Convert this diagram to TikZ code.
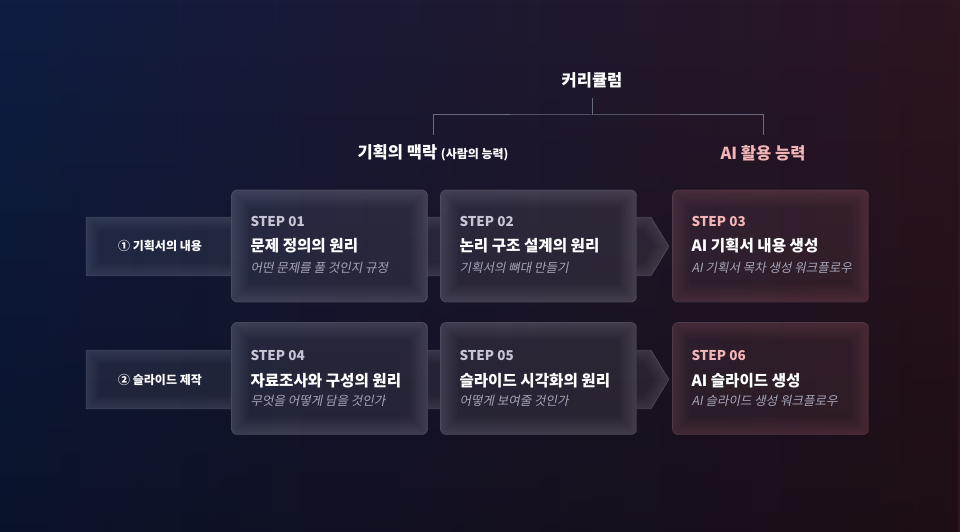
\documentclass[tikz,border=0pt]{standalone}
\usepackage{fontspec}
\setmainfont{Noto Sans CJK KR}
\newfontfamily\slantfont{Noto Sans CJK KR}[FakeSlant=0.2]
\usetikzlibrary{positioning,fadings}
\definecolor{bgnavy}{HTML}{0F1D42}
\definecolor{bgmid}{HTML}{1C1A38}
\definecolor{bgwine}{HTML}{2D1521}
\definecolor{steppink}{HTML}{F2B4B6}
\definecolor{stepgray}{HTML}{C6C5D4}
\definecolor{subgray}{HTML}{A6A5B8}
\definecolor{linegray}{HTML}{6C6C80}
\newcommand{\pagebg}{%
	\shade[left color=bgnavy, middle color=bgmid, right color=bgwine] (0,0) rectangle (960,532);
	\fill[black, path fading=north, fill opacity=0.35] (0,0) rectangle (960,532);}
\tikzset{
	every node/.style={inner sep=0},
}

\begin{document}
\begin{tikzpicture}[x=1pt,y=-1pt,
cardbox/.style = {rectangle, minimum width=196pt, minimum height=112pt},
band/.style = {fill=white, fill opacity=0.07, draw=white, draw opacity=0.2},
glow/.style = {opacity=0.012},
steplbl/.style = {anchor=west, font=\bfseries\fontsize{13.5}{13.5}\selectfont, text=stepgray},
steptitle/.style = {anchor=west, font=\bfseries\fontsize{15.6}{15.6}\selectfont, text=white},
stepsub/.style = {anchor=west, font=\slantfont\fontsize{12.5}{12.5}\selectfont, text=subgray},
bandlbl/.style = {font=\bfseries\fontsize{12}{12}\selectfont, text=white},
head/.style = {font=\bfseries\fontsize{16.5}{16.5}\selectfont, text=white},
tree/.style = {draw=linegray, line width=1pt}]
\useasboundingbox (0,0) rectangle (960,532);
\pagebg

% bands behind the rows
\path[band] (86,217) -- (651,217) -- (669,246.5) -- (651,276) -- (86,276) -- cycle;
\path[band] (86,350) -- (651,350) -- (669,379.5) -- (651,409) -- (86,409) -- cycle;
\begin{scope}
	\clip (86,217) -- (651,217) -- (669,246.5) -- (651,276) -- (86,276) -- cycle;
	\foreach \w in {3,6,...,27}
		\draw[white, glow, line width=\w pt] (86,217) -- (651,217) -- (669,246.5) -- (651,276) -- (86,276) -- cycle;
\end{scope}
\begin{scope}
	\clip (86,350) -- (651,350) -- (669,379.5) -- (651,409) -- (86,409) -- cycle;
	\foreach \w in {3,6,...,27}
		\draw[white, glow, line width=\w pt] (86,350) -- (651,350) -- (669,379.5) -- (651,409) -- (86,409) -- cycle;
\end{scope}
\node[bandlbl] (row1lbl) at (160,246) {① 기획서의 내용};
\node[bandlbl] (row2lbl) at (160,380) {② 슬라이드 제작};

% cards
\node[cardbox] (step1) at (329.5,246) {};
\node[cardbox] (step2) at (538.5,246) {};
\node[cardbox] (step3) at (770.5,246) {};
\node[cardbox] (step4) at (329.5,378.5) {};
\node[cardbox] (step5) at (538.5,378.5) {};
\node[cardbox] (step6) at (770.5,378.5) {};
\foreach \c/\t in {step1/white,step2/white,step3/steppink,step4/white,step5/white,step6/steppink}{
	\begin{scope}
		\clip[rounded corners=6pt] (\c.north west) rectangle (\c.south east);
		\pagebg
		\fill[\t, fill opacity=0.08] (\c.north west) rectangle (\c.south east);
		\foreach \w in {3,6,...,36}
			\draw[\t, glow, line width=\w pt, rounded corners=6pt] (\c.north west) rectangle (\c.south east);
	\end{scope}
	\draw[\t, opacity=0.22, rounded corners=6pt] (\c.north west) rectangle (\c.south east);
}

\node[steplbl] (s1lbl) at ([shift={(19,32)}]step1.north west) {STEP 01};
\node[steptitle] (s1title) at ([shift={(19,56)}]step1.north west) {문제 정의의 원리};
\node[stepsub] (s1sub) at ([shift={(19,78)}]step1.north west) {어떤 문제를 풀 것인지 규정};
\node[steplbl] (s2lbl) at ([shift={(19,32)}]step2.north west) {STEP 02};
\node[steptitle] (s2title) at ([shift={(19,56)}]step2.north west) {논리 구조 설계의 원리};
\node[stepsub] (s2sub) at ([shift={(19,78)}]step2.north west) {기획서의 뼈대 만들기};
\node[steplbl, text=steppink] (s3lbl) at ([shift={(19,32)}]step3.north west) {STEP 03};
\node[steptitle] (s3title) at ([shift={(19,56)}]step3.north west) {AI 기획서 내용 생성};
\node[stepsub] (s3sub) at ([shift={(19,78)}]step3.north west) {AI 기획서 목차 생성 워크플로우};
\node[steplbl] (s4lbl) at ([shift={(19,33)}]step4.north west) {STEP 04};
\node[steptitle] (s4title) at ([shift={(19,58)}]step4.north west) {자료조사와 구성의 원리};
\node[stepsub] (s4sub) at ([shift={(19,79)}]step4.north west) {무엇을 어떻게 담을 것인가};
\node[steplbl] (s5lbl) at ([shift={(19,33)}]step5.north west) {STEP 05};
\node[steptitle] (s5title) at ([shift={(19,58)}]step5.north west) {슬라이드 시각화의 원리};
\node[stepsub] (s5sub) at ([shift={(19,79)}]step5.north west) {어떻게 보여줄 것인가};
\node[steplbl, text=steppink] (s6lbl) at ([shift={(19,33)}]step6.north west) {STEP 06};
\node[steptitle] (s6title) at ([shift={(19,58)}]step6.north west) {AI 슬라이드 생성};
\node[stepsub] (s6sub) at ([shift={(19,79)}]step6.north west) {AI 슬라이드 생성 워크플로우};

% curriculum tree
\node[head] (curri) at (592,80) {커리큘럼};
\node[head] (context) at (433,153) {기획의 맥락 {\fontsize{12}{12}\selectfont (사람의 능력)}};
\node[head, text=steppink] (aiskill) at (763,153) {AI 활용 능력};
\coordinate (fork) at (592,115);
\draw[tree] ([yshift=-10pt]curri.south) -- (fork);
\draw[tree] ([yshift=10pt]context.north) |- (fork) -| ([yshift=10pt]aiskill.north);
\end{tikzpicture}
\end{document}
